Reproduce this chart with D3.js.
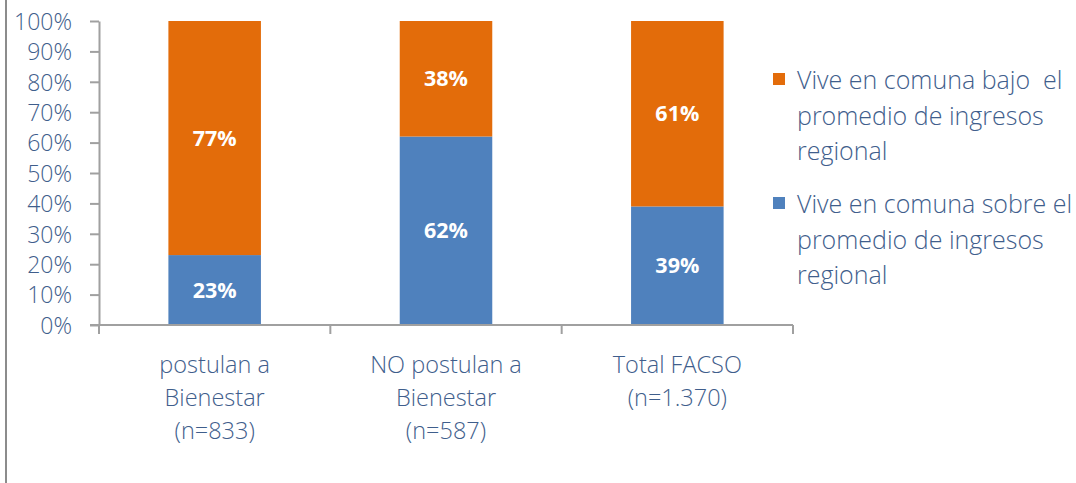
<!DOCTYPE html>
<html>
<head>
<meta charset="utf-8">
<script src="https://cdn.jsdelivr.net/npm/d3@7"></script>
<style>
  body { margin: 0; background: #fff; }
  svg text { font-family: "Open Sans", "Noto Sans", sans-serif; white-space: pre; }
</style>
</head>
<body>
<div id="chart"></div>
<script>
// categories (one line per label row)
const categories = [
    ["postulan a", "Bienestar", "(n=833)"],
    ["NO postulan a", "Bienestar", "(n=587)"],
    ["Total FACSO", "(n=1.370)"]
];
const catKeys = ["c1", "c2", "c3"];

// series values, percent
const sobre = [23, 62, 39];
const bajo = [77, 38, 61];

const seriesNames = [
    ["Vive en comuna bajo  el", "promedio de ingresos", "regional"],
    ["Vive en comuna sobre el", "promedio de ingresos", "regional"]
];
const yTicks = [0, 10, 20, 30, 40, 50, 60, 70, 80, 90, 100];

const width = 1076, height = 483;
const margin = {top: 21, left: 99, bottom: 158, right: 283};
const textColor = "#3f5e8c";

let svg = d3.select("#chart").append("svg")
    .attr("width", width)
    .attr("height", height);

// frame line on the left
svg.append("line")
    .attr("x1", 6).attr("x2", 6)
    .attr("y1", 0).attr("y2", height)
    .attr("stroke", "#8c8c8c")
    .attr("stroke-width", 2);

let x = d3.scaleBand()
    .domain(catKeys)
    .range([margin.left, width - margin.right])
    .paddingInner(0.6)
    .paddingOuter(0.3);

let y = d3.scaleLinear()
    .domain([0, 100])
    .range([height - margin.bottom, margin.top]);

// stacked rows
let rows = catKeys.map((k, i) => ({key: k, sobre: sobre[i], bajo: bajo[i]}));
let stack = d3.stack().keys(["sobre", "bajo"])(rows);
let colors = {sobre: "#4f81bd", bajo: "#e36c0a"};

let layers = svg.selectAll("g.layer").data(stack)
    .enter().append("g")
    .attr("class", "layer")
    .attr("fill", d => colors[d.key]);

layers.selectAll("rect").data(d => d)
    .enter().append("rect")
    .attr("x", d => x(d.data.key))
    .attr("width", x.bandwidth())
    .attr("y", d => y(d[1]))
    .attr("height", d => y(d[0]) - y(d[1]));

layers.selectAll("text").data(d => d)
    .enter().append("text")
    .attr("x", d => x(d.data.key) + x.bandwidth() / 2)
    .attr("y", d => (y(d[0]) + y(d[1])) / 2)
    .attr("dy", "0.35em")
    .attr("text-anchor", "middle")
    .attr("fill", "#fff")
    .attr("font-weight", "bold")
    .attr("font-size", 21.5)
    .text(d => Math.round(d[1] - d[0]) + "%");

// y axis
let yAxis = svg.append("g")
    .attr("transform", `translate(${margin.left},0)`)
    .call(d3.axisLeft(y).tickValues(yTicks).tickSize(9).tickSizeOuter(0).tickFormat(d => d + "%"));
yAxis.select(".domain").attr("stroke", "#a0a0a0").attr("stroke-width", 2);
yAxis.selectAll(".tick line").attr("stroke", "#a0a0a0").attr("stroke-width", 2);
yAxis.selectAll(".tick text")
    .attr("x", -27)
    .attr("dy", "0.36em")
    .attr("font-size", 23)
    .attr("font-weight", 300)
    .attr("fill", textColor);

// x axis with ticks between categories
let x0 = y(0);
let bandStep = x.step();
let xAxis = svg.append("g");
xAxis.append("line")
    .attr("x1", margin.left - 9).attr("x2", width - margin.right)
    .attr("y1", x0).attr("y2", x0)
    .attr("stroke", "#a0a0a0").attr("stroke-width", 2);
let borders = [margin.left].concat(catKeys.map(k => x(k) + x.bandwidth() / 2 + bandStep / 2));
xAxis.selectAll("line.sep").data(borders)
    .enter().append("line")
    .attr("class", "sep")
    .attr("x1", d => d).attr("x2", d => d)
    .attr("y1", x0).attr("y2", x0 + 9)
    .attr("stroke", "#a0a0a0").attr("stroke-width", 2);

let catText = xAxis.selectAll("text.cat").data(categories)
    .enter().append("text")
    .attr("class", "cat")
    .attr("text-anchor", "middle")
    .attr("font-size", 23.5)
    .attr("font-weight", 300)
    .attr("fill", textColor)
    .attr("transform", (d, i) => `translate(${x(catKeys[i]) + x.bandwidth() / 2},${x0 + 48})`);
catText.selectAll("tspan").data(d => d)
    .enter().append("tspan")
    .attr("x", 0)
    .attr("dy", (d, i) => i === 0 ? 0 : 33)
    .text(d => d);

// legend
let legendKeys = ["bajo", "sobre"];
let legend = svg.selectAll("g.legend").data(legendKeys)
    .enter().append("g")
    .attr("class", "legend")
    .attr("transform", (d, i) => `translate(773,${73 + i * 124})`);
legend.append("rect")
    .attr("width", 12).attr("height", 12)
    .attr("fill", d => colors[d]);
legend.append("text")
    .attr("font-size", 25)
    .attr("font-weight", 300)
    .attr("fill", textColor)
    .attr("y", 16)
    .selectAll("tspan").data((d, i) => seriesNames[i])
    .enter().append("tspan")
    .attr("x", 24)
    .attr("dy", (d, i) => i === 0 ? 0 : 35.5)
    .text(d => d);
</script>
</body>
</html>
